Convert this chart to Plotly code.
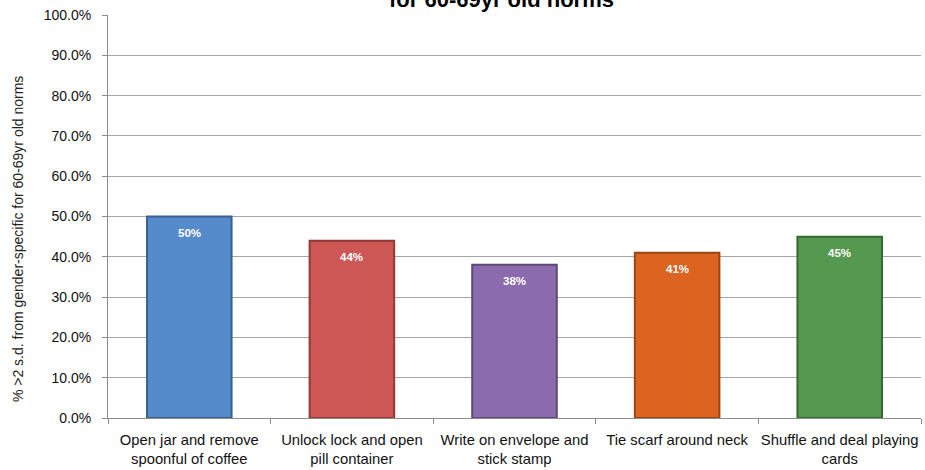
import plotly.graph_objects as go

categories = ["Open jar and remove<br>spoonful of coffee",
              "Unlock lock and open<br>pill container",
              "Write on envelope and<br>stick stamp",
              "Tie scarf around neck",
              "Shuffle and deal playing<br>cards"]
values = [0.50, 0.44, 0.38, 0.41, 0.45]
labels = ["50%", "44%", "38%", "41%", "45%"]
fill_colors = ["#558ACB", "#CD5755", "#8B6BAE", "#DD6320", "#54994F"]
edge_colors = ["#3A628F", "#8F3A38", "#5F497A", "#9A4512", "#356A33"]

fig = go.Figure()
fig.add_trace(go.Bar(
    x=categories, y=values,
    marker=dict(color=fill_colors, line=dict(color=edge_colors, width=2)),
    width=0.52,
    hoverinfo="skip",
))

annots = [
    dict(text="<b>for 60-69yr old norms</b>", x=0.5, xref="paper", xshift=-13,
         y=1, yref="paper", yshift=1, yanchor="bottom", showarrow=False,
         font=dict(size=22, family="Liberation Sans, Arial, sans-serif", color="black")),
    dict(text="% >2 s.d. from gender-specific for 60-69yr old norms",
         x=0, xref="paper", xshift=-90, xanchor="center",
         y=0.444, yref="paper", yanchor="middle", textangle=-90, showarrow=False,
         font=dict(size=14, family="Liberation Sans, Arial, sans-serif", color="#222")),
]
for c, v, t in zip(categories, values, labels):
    annots.append(dict(x=c, y=v, xref="x", yref="y", text="<b>" + t + "</b>",
                       showarrow=False, yanchor="middle", yshift=-16,
                       font=dict(size=11.5, color="white", family="Liberation Sans, Arial, sans-serif")))

fig.update_layout(
    width=925, height=470,
    margin=dict(l=108, r=4, t=15, b=52, autoexpand=False),
    plot_bgcolor="white", paper_bgcolor="white",
    showlegend=False,
    font=dict(family="Liberation Sans, Arial, sans-serif", color="black"),
    annotations=annots,
)
fig.update_xaxes(
    showline=True, linecolor="#8C8C8C", linewidth=1,
    ticks="outside", tickson="boundaries", ticklen=5, tickcolor="#8C8C8C",
    tickfont=dict(size=14.8, family="Liberation Sans, Arial, sans-serif", color="#111"),
    tickangle=0, automargin=False,
    ticklabelstandoff=8,
    showgrid=False,
)
fig.update_yaxes(
    range=[0, 1], dtick=0.1, tickformat=".1%",
    showline=True, linecolor="#8C8C8C", linewidth=1,
    ticks="outside", ticklen=5, tickcolor="#8C8C8C",
    showgrid=True, gridcolor="#A6A6A6", gridwidth=1,
    tickfont=dict(size=14, family="Liberation Sans, Arial, sans-serif", color="#111"),
    ticklabelstandoff=8, automargin=False,
)

fig.write_html("out.html")
